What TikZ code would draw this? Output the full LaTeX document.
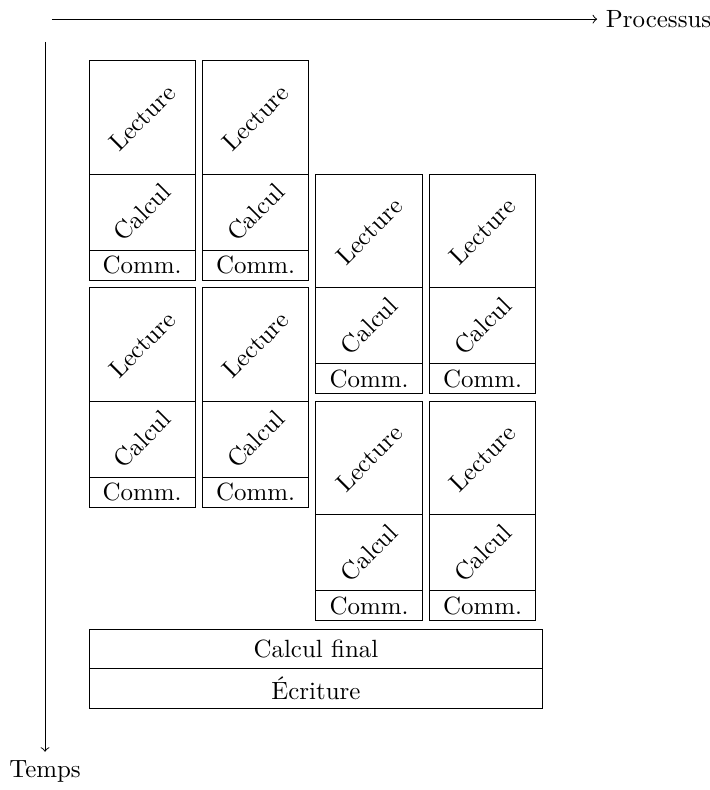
\documentclass[tikz,border=0pt]{standalone}
\usepackage{tikz}
\usetikzlibrary{positioning}
\tikzstyle{lecture} = [rectangle, minimum width=1.5cm, minimum height=1.6cm, inner sep=1pt, outer sep=0pt, text centered, draw=black]
\tikzstyle{calcul}  = [rectangle, minimum width=1.5cm, minimum height=1.07cm, inner sep=1pt, outer sep=0pt, text centered, draw=black]
\tikzstyle{comm}    = [rectangle, minimum width=1.5cm, minimum height=0.42cm, inner sep=1pt, outer sep=0pt, text centered, draw=black]
\tikzstyle{final}   = [rectangle, minimum width=6.4cm, minimum height=0.56cm, inner sep=1pt, outer sep=0pt, text centered, draw=black]
\tikzstyle{arrow}   = [->]

\begin{document}
\begin{tikzpicture}
    \useasboundingbox (0,0) rectangle (10,-11.14);

    % axes
    \coordinate (p0) at (0.73,-0.27);
    \node (proc) [anchor=west] at (8.42,-0.27) {Processus};
    \coordinate (t0) at (0.635,-0.59);
    \node (temps) [anchor=north] at (0.635,-10.6) {Temps};
    \draw [arrow] (p0) -- (proc);
    \draw [arrow] (t0) -- (temps);

    % one block per process and step
    \foreach \n/\x/\y in {a/1.255/0.86, b/2.855/0.86, c/1.255/4.06, d/2.855/4.06,
                          e/4.455/2.46, f/6.055/2.46, g/4.455/5.66, h/6.055/5.66} {
        \node (lec\n) [lecture, anchor=north west] at (\x,-\y) {\rotatebox{45}{Lecture}};
        \node (cal\n) [calcul, below=0pt of lec\n] {\rotatebox{45}{Calcul}};
        \node (com\n) [comm, below=0pt of cal\n] {Comm.};
    }

    \node (fin) [final, anchor=north west] at (1.255,-8.87) {Calcul final};
    \node (ecr) [final, below=0pt of fin] {Écriture};
\end{tikzpicture}
\end{document}
